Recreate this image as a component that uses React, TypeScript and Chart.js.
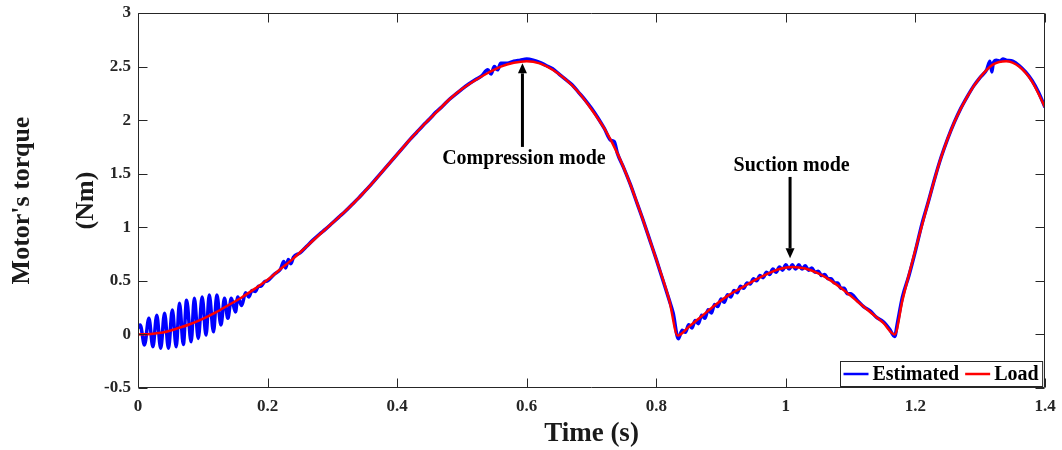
import React, { useEffect, useRef } from "react";
import { Chart, registerables } from "chart.js";
Chart.register(...registerables);

// ---------------- data ----------------
const seriesNames = ["Estimated", "Load"];
const seriesColors = ["#0000FF", "#FF0000"];
const xTitle = "Time (s)";
const yTitleLines = ["Motor's torque", "(Nm)"];
const xTickValues = [0, 0.2, 0.4, 0.6, 0.8, 1, 1.2, 1.4];
const yTickValues = [-0.5, 0, 0.5, 1, 1.5, 2, 2.5, 3];

const loadT = [
  0, 0.02, 0.04, 0.06, 0.08, 0.1, 0.12, 0.14, 0.16, 0.18, 0.2, 0.22, 0.24, 0.26, 0.28, 0.3,
  0.32, 0.34, 0.36, 0.38, 0.4, 0.42, 0.44, 0.46, 0.48, 0.5, 0.52, 0.54, 0.56, 0.58, 0.6,
  0.62, 0.64, 0.66, 0.68, 0.7, 0.72, 0.74, 0.76, 0.78, 0.8, 0.82, 0.833, 0.85, 0.87, 0.89,
  0.91, 0.93, 0.95, 0.97, 0.99, 1.01, 1.03, 1.05, 1.07, 1.09, 1.11, 1.13, 1.15, 1.168,
  1.18, 1.2, 1.22, 1.24, 1.26, 1.28, 1.3, 1.32, 1.34, 1.36, 1.38, 1.4,
];
const loadV = [
  0, 0.005, 0.02, 0.055, 0.095, 0.145, 0.205, 0.275, 0.345, 0.425, 0.51, 0.61, 0.71, 0.82, 0.93, 1.04,
  1.15, 1.27, 1.4, 1.54, 1.68, 1.82, 1.95, 2.07, 2.19, 2.29, 2.37, 2.44, 2.5, 2.535, 2.55,
  2.53, 2.47, 2.38, 2.26, 2.1, 1.92, 1.69, 1.4, 1.06, 0.7, 0.32, -0.01, 0.07, 0.17, 0.27,
  0.36, 0.43, 0.5, 0.56, 0.61, 0.63, 0.615, 0.57, 0.5, 0.41, 0.31, 0.21, 0.11, 0.0,
  0.32, 0.79, 1.24, 1.66, 1.98, 2.22, 2.4, 2.52, 2.55, 2.5, 2.36, 2.12,
];

const estT = [
  0, 0.0034, 0.01, 0.0168, 0.023, 0.029, 0.035, 0.041, 0.047, 0.053, 0.059, 0.064, 0.07, 0.075,
  0.082, 0.087, 0.093, 0.099, 0.105, 0.11, 0.1165, 0.1217, 0.128, 0.1335, 0.1387, 0.144, 0.1505,
  0.154, 0.16, 0.166, 0.171, 0.176, 0.181, 0.186, 0.19, 0.195, 0.2, 0.21, 0.22, 0.225, 0.228,
  0.232, 0.236, 0.24, 0.25, 0.26, 0.27, 0.28, 0.29, 0.3, 0.31, 0.32, 0.33, 0.34, 0.35, 0.36,
  0.37, 0.38, 0.39, 0.4, 0.41, 0.42, 0.43, 0.44, 0.45, 0.46, 0.47, 0.48, 0.49, 0.5, 0.51, 0.52,
  0.53, 0.54, 0.545, 0.55, 0.555, 0.56, 0.57, 0.58, 0.59, 0.6, 0.61, 0.62, 0.63, 0.64, 0.65,
  0.66, 0.67, 0.68, 0.69, 0.7, 0.71, 0.72, 0.73, 0.735, 0.74, 0.75, 0.76, 0.77, 0.78, 0.79,
  0.8, 0.81, 0.82, 0.826, 0.834, 0.84, 0.845, 0.85, 0.855, 0.86, 0.865, 0.87, 0.875, 0.88,
  0.885, 0.89, 0.895, 0.9, 0.905, 0.91, 0.915, 0.92, 0.925, 0.93, 0.935, 0.94, 0.945, 0.95,
  0.955, 0.96, 0.965, 0.97, 0.975, 0.98, 0.985, 0.99, 0.995, 1.0, 1.005, 1.01, 1.015, 1.02,
  1.025, 1.03, 1.035, 1.04, 1.045, 1.05, 1.055, 1.06, 1.065, 1.07, 1.075, 1.08, 1.085, 1.09,
  1.095, 1.1, 1.11, 1.12, 1.13, 1.14, 1.15, 1.16, 1.168, 1.172, 1.18, 1.19, 1.2, 1.21, 1.22,
  1.23, 1.24, 1.25, 1.26, 1.27, 1.28, 1.29, 1.3, 1.31, 1.315, 1.318, 1.32, 1.325, 1.33, 1.335,
  1.34, 1.35, 1.36, 1.37, 1.38, 1.39, 1.4,
];
const estV = [
  0.06, 0.088, -0.099, 0.15, -0.115, 0.18, -0.13, 0.197, -0.13, 0.228, -0.115, 0.29, -0.093, 0.32,
  -0.068, 0.337, -0.037, 0.35, -0.006, 0.367, 0.025, 0.367, 0.088, 0.337, 0.15, 0.337, 0.21,
  0.35, 0.27, 0.39, 0.35, 0.41, 0.4, 0.45, 0.45, 0.49, 0.5, 0.56, 0.61, 0.68, 0.62,
  0.7, 0.66, 0.72, 0.76, 0.82, 0.88, 0.935, 0.985, 1.04, 1.095, 1.15, 1.21, 1.27, 1.335, 1.4,
  1.47, 1.54, 1.61, 1.68, 1.75, 1.82, 1.885, 1.95, 2.01, 2.075, 2.13, 2.19, 2.24, 2.29, 2.335, 2.375,
  2.41, 2.47, 2.43, 2.5, 2.47, 2.53, 2.53, 2.55, 2.56, 2.57, 2.56, 2.54, 2.51, 2.48, 2.43,
  2.38, 2.33, 2.26, 2.19, 2.11, 2.02, 1.92, 1.81, 1.8, 1.69, 1.55, 1.4, 1.23, 1.06, 0.88,
  0.7, 0.51, 0.32, 0.2, -0.04, 0.04, 0.02, 0.09, 0.06, 0.13, 0.1, 0.18, 0.15, 0.23,
  0.2, 0.28, 0.26, 0.33, 0.3, 0.37, 0.35, 0.41, 0.39, 0.45, 0.43, 0.48, 0.47, 0.52,
  0.5, 0.55, 0.53, 0.58, 0.56, 0.61, 0.58, 0.63, 0.6, 0.65, 0.61, 0.65, 0.61, 0.65,
  0.61, 0.64, 0.6, 0.62, 0.58, 0.59, 0.55, 0.56, 0.52, 0.52, 0.48, 0.48, 0.43, 0.43,
  0.38, 0.38, 0.32, 0.26, 0.22, 0.16, 0.12, 0.05, -0.02, 0.1, 0.35, 0.55, 0.78, 1.03, 1.24,
  1.46, 1.66, 1.83, 1.98, 2.11, 2.22, 2.32, 2.4, 2.47, 2.55, 2.45, 2.53, 2.56, 2.55, 2.57,
  2.56, 2.55, 2.51, 2.45, 2.37, 2.26, 2.12,
];

// annotations: label, arrow x (s), arrow tail value, arrow head value, label side
const annoLabels = ["Compression mode", "Suction mode"];
const annoX = [0.5934, 1.0065];
const annoTail = [1.75, 1.47];
const annoHead = [2.53, 0.71];
const annoSide = ["below", "above"];

// ---------------- styling ----------------
const FONT = '"Times New Roman", "Liberation Serif", serif';
const AXIS_COLOR = "#262626";

const framePlugin = {
  id: "frame",
  afterDatasetsDraw(chart: any) {
    const { ctx, chartArea: a, scales } = chart;
    const xs = scales.x;
    const ys = scales.y;
    ctx.save();
    // box
    ctx.strokeStyle = AXIS_COLOR;
    ctx.lineWidth = 1;
    const L = Math.round(a.left) + 0.5;
    const R = Math.round(a.right) - 0.5;
    const T = Math.round(a.top) + 0.5;
    const B = Math.round(a.bottom) - 0.5;
    ctx.beginPath();
    ctx.rect(L, T, R - L, B - T);
    ctx.stroke();
    // ticks inward
    const tl = 9;
    ctx.beginPath();
    xTickValues.forEach((v) => {
      const px = Math.round(xs.getPixelForValue(v)) + 0.5;
      ctx.moveTo(px, B);
      ctx.lineTo(px, B - tl);
      ctx.moveTo(px, T);
      ctx.lineTo(px, T + tl);
    });
    yTickValues.forEach((v) => {
      const py = Math.round(ys.getPixelForValue(v)) + 0.5;
      ctx.moveTo(L, py);
      ctx.lineTo(L + tl, py);
      ctx.moveTo(R, py);
      ctx.lineTo(R - tl, py);
    });
    ctx.stroke();

    // annotations
    ctx.fillStyle = "#000";
    ctx.strokeStyle = "#000";
    ctx.font = `bold 20px ${FONT}`;
    ctx.textAlign = "center";
    ctx.textBaseline = "middle";
    annoLabels.forEach((lab, i) => {
      const px = xs.getPixelForValue(annoX[i]);
      const pt = ys.getPixelForValue(annoTail[i]);
      const ph = ys.getPixelForValue(annoHead[i]);
      const dir = ph < pt ? -1 : 1;
      const headLen = 10;
      const headW = 4.5;
      ctx.lineWidth = 3;
      ctx.beginPath();
      ctx.moveTo(px, pt);
      ctx.lineTo(px, ph - dir * headLen);
      ctx.stroke();
      ctx.beginPath();
      ctx.moveTo(px, ph);
      ctx.lineTo(px - headW, ph - dir * headLen);
      ctx.lineTo(px + headW, ph - dir * headLen);
      ctx.closePath();
      ctx.fill();
      const ty = annoSide[i] === "below" ? pt + 12 : pt - 11;
      ctx.fillText(lab, px + 1.5, ty);
    });

    // legend (inside, bottom-right)
    ctx.font = `bold 20px ${FONT}`;
    const lineLen = 25;
    const gapLT = 4;
    const gapItem = 6;
    const padL = 3;
    const padR = 4;
    let w = padL;
    const widths = seriesNames.map((n) => ctx.measureText(n).width);
    seriesNames.forEach((n, i) => {
      w += lineLen + gapLT + widths[i] + (i < seriesNames.length - 1 ? gapItem : 0);
    });
    w += padR;
    const h = 25;
    const bx = Math.round(a.right - 3 - w) + 0.5;
    const by = Math.round(a.bottom - 2 - h) + 0.5;
    ctx.fillStyle = "#fff";
    ctx.fillRect(bx, by, w, h);
    ctx.lineWidth = 1;
    ctx.strokeStyle = AXIS_COLOR;
    ctx.strokeRect(bx, by, w, h);
    let cx = bx + padL;
    const cy = by + h / 2;
    ctx.textAlign = "left";
    seriesNames.forEach((n, i) => {
      ctx.strokeStyle = seriesColors[i];
      ctx.lineWidth = 2.5;
      ctx.beginPath();
      ctx.moveTo(cx, cy);
      ctx.lineTo(cx + lineLen, cy);
      ctx.stroke();
      cx += lineLen + gapLT;
      ctx.fillStyle = "#000";
      ctx.fillText(n, cx, cy + 1);
      cx += widths[i] + gapItem;
    });

    // axis titles
    ctx.fillStyle = "#1a1a1a";
    ctx.textAlign = "center";
    ctx.textBaseline = "middle";
    ctx.font = `bold 27px ${FONT}`;
    const midX = (a.left + a.right) / 2;
    ctx.fillText(xTitle, midX, 434);
    ctx.font = `bold 26px ${FONT}`;
    const midY = (a.top + a.bottom) / 2;
    const titleX = [22, 86];
    yTitleLines.forEach((line, i) => {
      ctx.save();
      ctx.translate(titleX[i], midY);
      ctx.rotate(-Math.PI / 2);
      ctx.fillText(line, 0, 0);
      ctx.restore();
    });
    ctx.restore();
  },
};

function fmt(v: number) {
  const r = Math.round(v * 10) / 10;
  return String(r);
}

export default function App() {
  const ref = useRef<HTMLCanvasElement | null>(null);
  useEffect(() => {
    if (!ref.current) return;
    const chart = new Chart(ref.current, {
      type: "line",
      data: {
        datasets: [
          {
            label: seriesNames[0],
            data: estT.map((t, i) => ({ x: t, y: estV[i] })),
            borderColor: seriesColors[0],
            borderWidth: 3.5,
            pointRadius: 0,
            cubicInterpolationMode: "monotone",
            order: 2,
          },
          {
            label: seriesNames[1],
            data: loadT.map((t, i) => ({ x: t, y: loadV[i] })),
            borderColor: seriesColors[1],
            borderWidth: 2.5,
            pointRadius: 0,
            cubicInterpolationMode: "monotone",
            order: 1,
          },
        ],
      },
      options: {
        responsive: false,
        animation: false,
        events: [],
        layout: { padding: { left: 0, right: 17, top: 13, bottom: 0 } },
        plugins: { legend: { display: false }, tooltip: { enabled: false } },
        scales: {
          x: {
            type: "linear",
            min: 0,
            max: 1.4,
            afterFit: (s: any) => {
              s.height = 62;
              s.paddingLeft = 0;
              s.paddingRight = 0;
            },
            afterBuildTicks: (s: any) => {
              s.ticks = xTickValues.map((v) => ({ value: v }));
            },
            grid: { display: false, drawTicks: false },
            border: { display: false },
            ticks: {
              padding: 8,
              color: AXIS_COLOR,
              font: { family: FONT, size: 17, weight: "bold" },
              callback: (v: any) => fmt(Number(v)),
              maxRotation: 0,
              autoSkip: false,
            },
          },
          y: {
            type: "linear",
            min: -0.5,
            max: 3,
            afterFit: (s: any) => {
              s.width = 138;
              s.paddingTop = 0;
              s.paddingBottom = 0;
            },
            afterBuildTicks: (s: any) => {
              s.ticks = yTickValues.map((v) => ({ value: v }));
            },
            grid: { display: false, drawTicks: false },
            border: { display: false },
            ticks: {
              padding: 7,
              color: AXIS_COLOR,
              font: { family: FONT, size: 17, weight: "bold" },
              callback: (v: any) => fmt(Number(v)),
              autoSkip: false,
            },
          },
        },
      },
      plugins: [framePlugin],
    } as any);
    return () => chart.destroy();
  }, []);
  return (
    <div style={{ position: "fixed", left: 0, top: 0, width: 1062, height: 450, background: "#fff" }}>
      <canvas ref={ref} width={1062} height={450} />
    </div>
  );
}
